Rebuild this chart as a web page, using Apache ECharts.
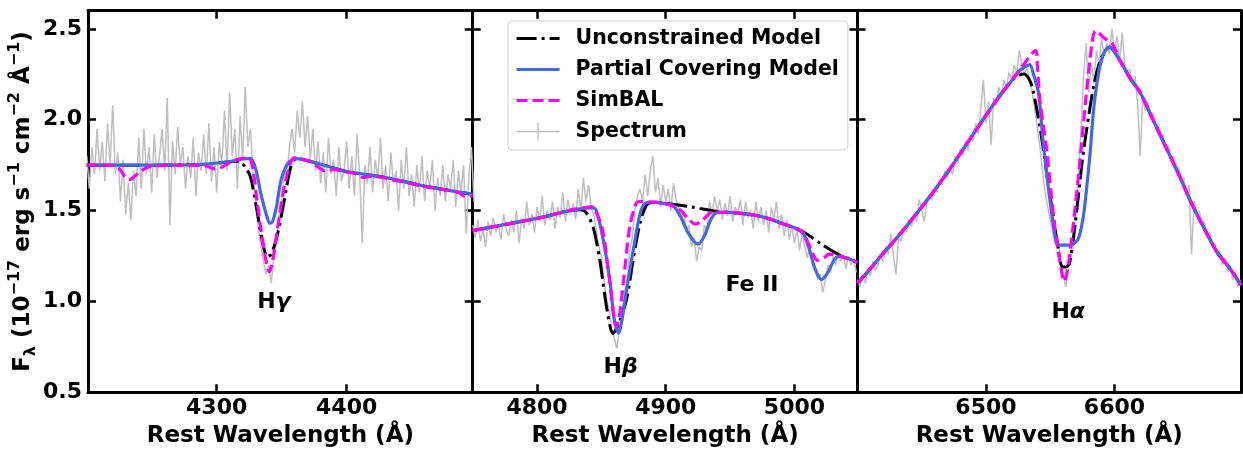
<!doctype html>
<html lang="en">
  <head>
    <meta charset="UTF-8" />
    <title>Spectrum fits</title>
    <style>
      html, body { margin: 0; padding: 0; background: #fff; }
      #chart1 { width: 1243px; height: 450px; }
    </style>
  </head>
  <body>
    <div id="chart1"></div>
    <script src="https://cdn.jsdelivr.net/npm/echarts@6.0.0/dist/echarts.min.js"></script>
    <script>
      // wavelength window of each panel and its ticks
      const panelMin = [4201, 4750, 6400];
      const panelMax = [4497, 5049, 6698.5];
      const xTicks = [[4300, 4400], [4800, 4900, 5000], [6500, 6600]];
      const yTicks = [0.5, 1.0, 1.5, 2.0, 2.5];

      // observed spectrum, one value every 2 A from specStart
      const specStart = [4200, 4750, 6400];
      const specStep = 2;
      const spec1 = [
        1.80, 1.62, 1.85, 1.70, 1.95, 1.72, 1.88, 1.66, 1.98, 1.75,
        2.08, 1.70, 1.82, 1.55, 1.78, 1.48, 1.65, 1.45, 1.72, 1.58,
        1.90, 1.62, 1.95, 1.70, 1.85, 1.60, 1.92, 1.68, 1.80, 1.95,
        1.72, 2.12, 1.42, 1.88, 1.70, 1.96, 1.75, 1.85, 1.62, 1.80,
        1.68, 1.90, 1.58, 1.82, 1.72, 1.92, 1.70, 1.98, 1.66, 1.85,
        1.60, 1.88, 1.75, 2.05, 1.72, 2.15, 1.80, 1.95, 1.62, 2.02,
        1.78, 2.18, 1.85, 1.95, 1.70, 1.55, 1.40, 1.30, 1.22, 1.15,
        1.20, 1.10, 1.25, 1.32, 1.48, 1.55, 1.72, 1.68, 1.85, 1.95,
        1.82, 2.05, 1.90, 2.10, 1.85, 2.02, 1.78, 1.95, 1.72, 1.88,
        1.65, 1.82, 1.60, 1.90, 1.70, 1.78, 1.58, 1.85, 1.66, 1.72,
        1.88, 1.62, 1.80, 1.58, 1.92, 1.70, 1.32, 1.75, 1.65, 1.85,
        1.60, 1.78, 1.68, 1.90, 1.62, 1.75, 1.55, 1.82, 1.65, 1.72,
        1.50, 1.78, 1.62, 1.85, 1.58, 1.70, 1.52, 1.75, 1.60, 1.80,
        1.55, 1.72, 1.62, 1.78, 1.50, 1.68, 1.58, 1.75, 1.55, 1.70,
        1.62, 1.78, 1.52, 1.72, 1.60, 1.75, 1.37, 1.68, 1.85, 1.55
      ];
      const spec2 = [
        1.42, 1.35, 1.45, 1.33, 1.40, 1.30, 1.44, 1.36, 1.46, 1.38,
        1.42, 1.34, 1.48, 1.40, 1.36, 1.45, 1.38, 1.50, 1.32, 1.46,
        1.40, 1.55, 1.42, 1.48, 1.38, 1.52, 1.44, 1.58, 1.42, 1.50,
        1.45, 1.55, 1.40, 1.52, 1.46, 1.60, 1.44, 1.56, 1.48, 1.54,
        1.45, 1.62, 1.50, 1.68, 1.55, 1.64, 1.52, 1.48, 1.40, 1.30,
        1.25, 1.12, 1.02, 0.95, 0.85, 0.80, 0.74, 0.85, 0.92, 1.05,
        1.12, 1.28, 1.35, 1.50, 1.58, 1.62, 1.55, 1.70, 1.58, 1.72,
        1.80, 1.60, 1.68, 1.52, 1.64, 1.55, 1.62, 1.50, 1.65, 1.56,
        1.52, 1.44, 1.50, 1.38, 1.42, 1.30, 1.35, 1.22, 1.30, 1.28,
        1.42, 1.38, 1.55, 1.48, 1.58, 1.50, 1.56, 1.45, 1.54, 1.47,
        1.58, 1.44, 1.52, 1.48, 1.56, 1.42, 1.55, 1.46, 1.50, 1.40,
        1.55, 1.44, 1.52, 1.42, 1.50, 1.38, 1.52, 1.45, 1.55, 1.40,
        1.48, 1.36, 1.45, 1.34, 1.42, 1.32, 1.40, 1.28, 1.38, 1.30,
        1.24, 1.32, 1.20, 1.18, 1.12, 1.15, 1.05, 1.12, 1.20, 1.16,
        1.25, 1.20, 1.28, 1.22, 1.26, 1.18, 1.25, 1.20, 1.24, 1.16
      ];
      const spec3 = [
        1.12, 1.08, 1.15, 1.10, 1.18, 1.14, 1.22, 1.17, 1.20, 1.25,
        1.22, 1.30, 1.26, 1.37, 1.25, 1.15, 1.36, 1.33, 1.40, 1.38,
        1.45, 1.41, 1.48, 1.44, 1.56, 1.50, 1.44, 1.55, 1.58, 1.56,
        1.63, 1.60, 1.67, 1.64, 1.72, 1.68, 1.74, 1.70, 1.80, 1.76,
        1.84, 1.80, 1.88, 1.83, 1.92, 1.88, 1.98, 1.92, 2.06, 2.22,
        1.98, 2.10, 1.86, 2.12, 2.08, 2.18, 2.12, 2.22, 2.18, 2.26,
        2.22, 2.30, 2.26, 2.38, 2.30, 2.26, 2.28, 2.22, 2.15, 2.05,
        1.96, 1.85, 1.72, 1.60, 1.52, 1.45, 1.38, 1.32, 1.35, 1.22,
        1.15, 1.08, 1.18, 1.22, 1.35, 1.52, 1.70, 1.95, 2.25, 2.42,
        2.15, 2.30, 2.20, 2.38, 2.30, 2.45, 2.35, 2.42, 2.36, 2.50,
        2.38, 2.46, 2.32, 2.48, 2.30, 2.26, 2.28, 2.20, 2.24, 2.10,
        1.80, 2.12, 2.05, 2.08, 2.00, 2.04, 1.95, 1.98, 1.90, 1.92,
        1.83, 1.86, 1.78, 1.80, 1.72, 1.74, 1.66, 1.68, 1.58, 1.64,
        1.26, 1.55, 1.48, 1.50, 1.42, 1.44, 1.36, 1.38, 1.30, 1.32,
        1.25, 1.28, 1.20, 1.24, 1.16, 1.20, 1.12, 1.16, 1.08, 1.12
      ];

      // model curves, [wavelength, flux]
      const unconstrained1 = [[4200, 1.75], [4250, 1.75], [4290, 1.755], [4305, 1.765], [4314, 1.772], [4318, 1.768], [4322, 1.74], [4326, 1.685], [4331, 1.5], [4335, 1.34], [4339, 1.245], [4342, 1.26], [4347, 1.375], [4352, 1.557], [4357, 1.74], [4361, 1.786], [4380, 1.755], [4400, 1.715], [4428, 1.685], [4460, 1.635], [4497, 1.59]];
      const covering1 = [[4200, 1.75], [4250, 1.75], [4290, 1.755], [4310, 1.77], [4320, 1.785], [4326, 1.787], [4330, 1.73], [4334, 1.593], [4338, 1.484], [4341, 1.43], [4343, 1.44], [4346, 1.52], [4349.5, 1.666], [4354.7, 1.758], [4361, 1.786], [4380, 1.755], [4400, 1.715], [4428, 1.685], [4460, 1.635], [4497, 1.59]];
      const simbal1 = [[4200, 1.75], [4218, 1.75], [4225, 1.73], [4229, 1.69], [4233, 1.67], [4237, 1.69], [4242, 1.72], [4250, 1.745], [4280, 1.75], [4292, 1.745], [4298, 1.73], [4303, 1.735], [4310, 1.765], [4318, 1.785], [4325, 1.79], [4328, 1.72], [4331, 1.56], [4334, 1.4], [4337, 1.26], [4340.5, 1.163], [4343, 1.22], [4347, 1.41], [4352, 1.63], [4357, 1.767], [4360, 1.79], [4372, 1.77], [4378, 1.74], [4383, 1.72], [4390, 1.725], [4400, 1.712], [4408, 1.7], [4413, 1.682], [4420, 1.69], [4430, 1.678], [4460, 1.632], [4486, 1.6], [4491, 1.578], [4497, 1.58]];

      const unconstrained2 = [[4750, 1.39], [4800, 1.457], [4833, 1.505], [4838, 1.49], [4843.5, 1.41], [4848.7, 1.23], [4854, 0.97], [4859, 0.824], [4863, 0.87], [4869.5, 1.01], [4874.7, 1.23], [4880, 1.43], [4885, 1.53], [4890, 1.545], [4900, 1.54], [4920, 1.52], [4940, 1.495], [4950, 1.49], [4965, 1.479], [4978, 1.46], [4990, 1.43], [5000, 1.405], [5009, 1.374], [5020, 1.32], [5035, 1.255], [5042, 1.235], [5049, 1.215]];
      const covering2 = [[4750, 1.39], [4800, 1.457], [4843, 1.516], [4846, 1.5], [4851, 1.355], [4856.5, 1.12], [4860, 0.9], [4863.5, 0.825], [4866, 0.9], [4869.5, 1.06], [4874.7, 1.28], [4880, 1.48], [4884, 1.54], [4890, 1.547], [4900, 1.538], [4906, 1.525], [4912, 1.46], [4918, 1.37], [4925, 1.315], [4930, 1.36], [4935, 1.45], [4940, 1.49], [4950, 1.49], [4965, 1.479], [4978, 1.46], [4990, 1.43], [5000, 1.405], [5006, 1.385], [5011, 1.3], [5016, 1.18], [5021, 1.12], [5026, 1.16], [5031, 1.23], [5035, 1.249], [5042, 1.235], [5049, 1.215]];
      const simbal2 = [[4750, 1.39], [4800, 1.457], [4843, 1.52], [4846, 1.49], [4851, 1.39], [4856, 1.14], [4861.7, 0.86], [4864, 0.92], [4867, 1.1], [4872, 1.41], [4877, 1.54], [4880, 1.55], [4890, 1.547], [4900, 1.538], [4910, 1.51], [4917, 1.46], [4923, 1.425], [4929, 1.45], [4936, 1.49], [4950, 1.49], [4965, 1.479], [4978, 1.46], [4990, 1.43], [5000, 1.405], [5007, 1.375], [5012, 1.3], [5018, 1.226], [5023, 1.24], [5027, 1.26], [5035, 1.249], [5042, 1.235], [5049, 1.215]];

      const unconstrained3 = [[6400, 1.1], [6410, 1.18], [6420, 1.265], [6430, 1.345], [6440, 1.43], [6450, 1.52], [6460, 1.612], [6470, 1.71], [6480, 1.813], [6490, 1.92], [6500, 2.024], [6510, 2.125], [6520, 2.215], [6526, 2.245], [6529.6, 2.252], [6533, 2.23], [6536, 2.18], [6542, 1.96], [6547.3, 1.703], [6552.4, 1.465], [6556, 1.3], [6559.5, 1.19], [6562, 1.19], [6565, 1.21], [6569.8, 1.447], [6575, 1.776], [6580.2, 2.033], [6584, 2.19], [6588, 2.307], [6592, 2.37], [6596, 2.4], [6604, 2.33], [6612, 2.23], [6620, 2.15], [6630, 2.0], [6640, 1.85], [6650, 1.7], [6660, 1.54], [6670, 1.4], [6680, 1.27], [6690, 1.18], [6698.5, 1.09]];
      const covering3 = [[6400, 1.1], [6410, 1.18], [6420, 1.265], [6430, 1.345], [6440, 1.43], [6450, 1.52], [6460, 1.612], [6470, 1.71], [6480, 1.813], [6490, 1.92], [6500, 2.024], [6510, 2.125], [6520, 2.215], [6526, 2.27], [6530, 2.29], [6534, 2.303], [6537, 2.25], [6541, 2.143], [6544.6, 1.87], [6549.8, 1.557], [6555, 1.317], [6558, 1.31], [6565, 1.31], [6571.5, 1.34], [6575.7, 1.465], [6578, 1.6], [6581, 1.813], [6584, 2.07], [6588, 2.27], [6592, 2.37], [6596, 2.4], [6604, 2.33], [6612, 2.23], [6620, 2.15], [6630, 2.0], [6640, 1.85], [6650, 1.7], [6660, 1.54], [6670, 1.4], [6680, 1.27], [6690, 1.18], [6698.5, 1.09]];
      const simbal3 = [[6400, 1.1], [6410, 1.18], [6420, 1.265], [6430, 1.345], [6440, 1.43], [6450, 1.52], [6460, 1.612], [6470, 1.71], [6480, 1.813], [6490, 1.92], [6500, 2.024], [6510, 2.125], [6520, 2.215], [6530, 2.31], [6538.6, 2.38], [6540, 2.3], [6542, 2.106], [6547.3, 1.83], [6552.4, 1.48], [6557.6, 1.22], [6561, 1.11], [6564, 1.2], [6567.2, 1.375], [6572.4, 1.72], [6577.6, 2.106], [6582.8, 2.436], [6585.4, 2.49], [6592, 2.45], [6598.3, 2.418], [6601, 2.38], [6604, 2.33], [6612, 2.23], [6620, 2.15], [6630, 2.0], [6640, 1.85], [6650, 1.7], [6660, 1.54], [6670, 1.4], [6680, 1.27], [6690, 1.18], [6698.5, 1.09]];

      // line labels
      const noteText = ["{b|H}{g|\u03b3}", "{b|H}{g|\u03b2}", "{b|Fe II}", "{b|H}{g|\u03b1}"];
      const notePanel = [0, 1, 1, 2];
      const noteX = [4344, 4865, 4967, 6564];
      const noteY = [0.996, 0.639, 1.09, 0.941];

      const FONT = "'DejaVu Sans', sans-serif";
      const myChart = echarts.init(document.querySelector("#chart1"));

      const grids = [
        { left: 88, right: 770.3, top: 10.7, bottom: 57.7 },
        { left: 472.7, right: 385.5, top: 10.7, bottom: 57.7 },
        { left: 857.5, right: 2, top: 10.7, bottom: 57.7 },
      ].map((g) => Object.assign(g, { outerBoundsMode: "none", containLabel: false }));

      const frameLine = { show: true, onZero: false, lineStyle: { color: "#000", width: 3 } };
      const tickStyle = { inside: true, length: 8, lineStyle: { color: "#000", width: 2.5 } };
      const labelStyle = { color: "#000", fontSize: 22, fontWeight: "bold", fontFamily: FONT };
      const nameStyle = { color: "#000", fontSize: 23, fontWeight: "bold", fontFamily: FONT };

      const xAxes = [];
      const yAxes = [];
      for (let i = 0; i < 3; i++) {
        // bottom axis with labels, top axis only for ticks
        xAxes.push({
          type: "value", gridIndex: i, position: "bottom",
          min: panelMin[i], max: panelMax[i],
          axisLine: frameLine,
          axisTick: Object.assign({ customValues: xTicks[i] }, tickStyle),
          axisLabel: Object.assign({ customValues: xTicks[i], margin: 5, formatter: (v) => String(v) }, labelStyle),
          splitLine: { show: false },
          name: "Rest Wavelength (\u00c5)", nameLocation: "middle", nameGap: 30,
          nameTextStyle: nameStyle,
        });
        xAxes.push({
          type: "value", gridIndex: i, position: "top",
          min: panelMin[i], max: panelMax[i],
          axisLine: frameLine,
          axisTick: Object.assign({ customValues: xTicks[i] }, tickStyle),
          axisLabel: { show: false },
          splitLine: { show: false },
        });
        yAxes.push({
          type: "value", gridIndex: i, position: "left",
          min: 0.5, max: 2.6,
          axisLine: frameLine,
          axisTick: Object.assign({ customValues: yTicks }, tickStyle),
          axisLabel: Object.assign({ show: i === 0, customValues: yTicks, margin: 6, formatter: (v) => v.toFixed(1) }, labelStyle),
          splitLine: { show: false },
        });
        yAxes.push({
          type: "value", gridIndex: i, position: "right",
          min: 0.5, max: 2.6,
          axisLine: frameLine,
          axisTick: Object.assign({ customValues: yTicks }, tickStyle),
          axisLabel: { show: false },
          splitLine: { show: false },
        });
      }
      Object.assign(yAxes[0], {
        name: "{m|F}{s|\u03bb}{m| (10}{p|\u221217}{m| erg s}{p|\u22121}{m| cm}{p|\u22122}{m| \u00c5}{p|\u22121}{m|)}",
        nameLocation: "middle",
        nameGap: 48,
        nameRotate: 90,
        nameTextStyle: {
          color: "#000", fontFamily: FONT, fontWeight: "bold",
          rich: {
            m: { fontSize: 23, fontWeight: "bold", fontFamily: FONT, color: "#000", lineHeight: 32 },
            p: { fontSize: 16, fontWeight: "bold", fontFamily: FONT, color: "#000", lineHeight: 17, verticalAlign: "top" },
            s: { fontSize: 16, fontWeight: "bold", fontFamily: FONT, color: "#000", lineHeight: 17, verticalAlign: "bottom" },
          },
        },
      });

      const spectra = [spec1, spec2, spec3];
      const unconstrained = [unconstrained1, unconstrained2, unconstrained3];
      const covering = [covering1, covering2, covering3];
      const simbal = [simbal1, simbal2, simbal3];

      const series = [];
      const addLine = (name, data, i, color, width, type, smooth) => {
        series.push({
          name, type: "line", data, xAxisIndex: 2 * i, yAxisIndex: 2 * i,
          symbol: "none", showSymbol: false, smooth, color,
          lineStyle: { color, width, type },
          animation: false, silent: true,
        });
      };
      for (let i = 0; i < 3; i++) {
        const pts = spectra[i].map((v, k) => [specStart[i] + k * specStep, v]);
        addLine("Spectrum", pts, i, "#bfbfbf", 1.5, "solid", false);
      }
      for (let i = 0; i < 3; i++) addLine("Unconstrained Model", unconstrained[i], i, "#000", 3, [20, 5, 3, 5], 0.3);
      for (let i = 0; i < 3; i++) addLine("Partial Covering Model", covering[i], i, "#4169e1", 3.2, "solid", 0.3);
      for (let i = 0; i < 3; i++) addLine("SimBAL", simbal[i], i, "#ff00ff", 3.2, [11, 5], 0.3);

      // text labels for the absorption lines
      for (let k = 0; k < noteText.length; k++) {
        const i = notePanel[k];
        series.push({
          type: "scatter", xAxisIndex: 2 * i, yAxisIndex: 2 * i,
          symbolSize: 0, silent: true, animation: false,
          itemStyle: { color: "#000", opacity: 1 },
          data: [[noteX[k], noteY[k]]],
          label: {
            show: true, position: "inside", formatter: noteText[k], color: "#000", opacity: 1,
            rich: {
              b: { fontSize: 22, fontWeight: "bold", fontFamily: FONT, color: "#000" },
              g: { fontSize: 22, fontWeight: "bold", fontStyle: "italic", fontFamily: FONT, color: "#000" },
            },
          },
        });
      }

      const hideDot = { opacity: 0 };
      const option = {
        animation: false,
        grid: grids,
        xAxis: xAxes,
        yAxis: yAxes,
        legend: {
          orient: "vertical", left: 508, top: 21,
          itemWidth: 43, itemHeight: 18, itemGap: 10,
          padding: [7, 9, 8, 7],
          backgroundColor: "rgba(255,255,255,0.8)",
          borderColor: "#d0d0d0", borderWidth: 1, borderRadius: 4,
          textStyle: { color: "#000", fontSize: 20.5, fontWeight: "bold", fontFamily: FONT, padding: [0, 0, 0, 11] },
          data: [
            { name: "Unconstrained Model", itemStyle: hideDot, lineStyle: { width: 3 } },
            { name: "Partial Covering Model", itemStyle: hideDot, lineStyle: { width: 3.2 } },
            { name: "SimBAL", itemStyle: hideDot, lineStyle: { width: 3.2 } },
            { name: "Spectrum", icon: "path://M0,8.3h43v1.4h-43z M20.8,0h1.4v18h-1.4z" },
          ],
        },
        series,
      };

      myChart.setOption(option);
    </script>
  </body>
</html>
